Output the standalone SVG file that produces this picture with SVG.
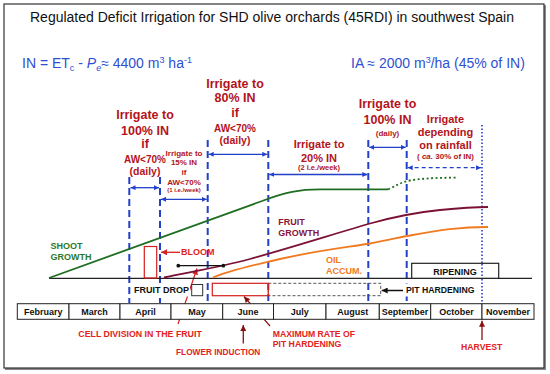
<svg xmlns="http://www.w3.org/2000/svg" width="550" height="374" viewBox="0 0 550 374">
<defs>
<style>
text{font-family:"Liberation Sans",Arial,sans-serif}
.b{font-weight:bold}
.irr{fill:#b3141c;font-weight:bold;text-anchor:middle}
.lbl{fill:#e3221b;font-weight:bold}
.blue{fill:#2f4fd2}
.vd{stroke:#2340c8;stroke-width:2;stroke-dasharray:7 4;fill:none}
.da{stroke:#2340c8;stroke-width:1.3;fill:none;marker-start:url(#ab);marker-end:url(#ab)}
.cell{fill:#fff;stroke:#222;stroke-width:1}
.mon{font-size:9px;font-weight:bold;text-anchor:middle;fill:#111}
.mask{fill:#fff;stroke:none}
</style>
<marker id="ab" viewBox="0 0 10 10" refX="10" refY="5" markerWidth="5" markerHeight="5" orient="auto-start-reverse" markerUnits="userSpaceOnUse"><path d="M0,0 L10,5 L0,10 z" fill="#2340c8"/></marker>
<marker id="ar" viewBox="0 0 10 10" refX="10" refY="5" markerWidth="7" markerHeight="6" orient="auto" markerUnits="userSpaceOnUse"><path d="M0,0 L10,5 L0,10 z" fill="#d42020"/></marker>
<marker id="ad" viewBox="0 0 10 10" refX="10" refY="5" markerWidth="7" markerHeight="6" orient="auto" markerUnits="userSpaceOnUse"><path d="M0,0 L10,5 L0,10 z" fill="#8a1010"/></marker>
<marker id="ak" viewBox="0 0 10 10" refX="10" refY="5" markerWidth="8" markerHeight="6" orient="auto" markerUnits="userSpaceOnUse"><path d="M0,0 L10,5 L0,10 z" fill="#111"/></marker>
</defs>
<rect width="550" height="374" fill="#fff"/>
<rect x="5" y="5" width="541" height="365" fill="#888"/>
<rect x="4" y="4" width="540" height="364" fill="#fff" stroke="#333" stroke-width="1.2"/>

<g id="title">
<text x="272" y="22" text-anchor="middle" font-size="14" fill="#111">Regulated Deficit Irrigation for SHD olive orchards (45RDI) in southwest Spain</text>
</g>
<g id="formula-IN">
<text x="22" y="68" class="blue" font-size="14">IN = ET<tspan font-size="9" dy="3">c</tspan><tspan dy="-3"> - </tspan><tspan font-style="italic">P</tspan><tspan font-size="9" dy="3" font-style="italic">e</tspan><tspan dy="-3">≈ 4400 m</tspan><tspan font-size="9" dy="-5">3</tspan><tspan dy="5"> ha</tspan><tspan font-size="9" dy="-5">-1</tspan></text>
</g>
<g id="formula-IA">
<text x="351" y="68" class="blue" font-size="14">IA ≈ 2000 m<tspan font-size="9" dy="-5">3</tspan><tspan dy="5">/ha (45% of IN)</tspan></text>
</g>

<g id="connectors">
<line class="vd" x1="129.3" y1="177" x2="129.3" y2="303"/>
<line class="vd" x1="160" y1="177" x2="160" y2="303"/>
<line class="vd" x1="207.7" y1="140" x2="207.7" y2="303"/>
<line class="vd" x1="268.3" y1="140" x2="268.3" y2="303"/>
<line class="vd" x1="368.3" y1="140" x2="368.3" y2="303"/>
<line class="vd" x1="406.7" y1="140" x2="406.7" y2="303"/>
<line x1="482" y1="125" x2="482" y2="303" stroke="#2340c8" stroke-width="1.6" stroke-dasharray="1.5 2"/>
<line class="da" x1="130.5" y1="187.7" x2="159" y2="187.7"/>
<line class="da" x1="161" y1="199.3" x2="206.7" y2="199.3"/>
<line class="da" x1="208.7" y1="154.3" x2="267.3" y2="154.3"/>
<line class="da" x1="269.3" y1="174.5" x2="367.3" y2="174.5"/>
<line class="da" x1="369.3" y1="147.3" x2="405.7" y2="147.3"/>
<line class="da" x1="407.7" y1="167.7" x2="481" y2="167.7" stroke-dasharray="4 3"/>
<line x1="180" y1="252.3" x2="161" y2="252.3" stroke="#d42020" stroke-width="1.3" marker-end="url(#ar)"/>
<line x1="178" y1="324" x2="197" y2="268.5" stroke="#d42020" stroke-width="1.2" marker-end="url(#ar)"/>
<line x1="243.3" y1="343.5" x2="243.3" y2="325" stroke="#8a1010" stroke-width="1.3" marker-end="url(#ad)"/>
<line x1="270" y1="326" x2="244" y2="296.5" stroke="#8a1010" stroke-width="1.2" marker-end="url(#ad)"/>
<line x1="482" y1="340" x2="482" y2="320.7" stroke="#8a1010" stroke-width="1.3" marker-end="url(#ad)"/>
<line x1="403" y1="290.5" x2="381.7" y2="290.5" stroke="#111" stroke-width="1.5" marker-end="url(#ak)"/>
</g>

<g id="baseline"><line x1="49" y1="278.3" x2="532" y2="278.3" stroke="#222" stroke-width="1.3"/></g>

<g id="shoot-growth">
<path d="M49,278 L262,201 C285,192 300,189.3 320,189.3 L388,189.3" fill="none" stroke="#1f6e22" stroke-width="1.8"/>
<path d="M388,189.3 C396,186 401,182 410,180.5 C425,178 440,177.7 456,177.7" fill="none" stroke="#1f6e22" stroke-width="1.8" stroke-dasharray="2 2.5"/>
<text x="50.5" y="249" class="b" font-size="9" fill="#2a7a2a">SHOOT</text>
<text x="50.5" y="260" class="b" font-size="9" fill="#2a7a2a">GROWTH</text>
</g>
<g id="fruit-growth">
<path d="M164,277.5 C190,272 220,267 250,259 C300,245 340,232 372,223 C392,217.5 410,213 440,210 C460,208 475,207 488,207" fill="none" stroke="#7c1034" stroke-width="1.8"/>
<text x="278.3" y="225" class="b" font-size="9" fill="#8b1538">FRUIT</text>
<text x="278.3" y="235.5" class="b" font-size="9" fill="#8b1538">GROWTH</text>
</g>
<g id="oil-accum">
<path d="M213,277.5 C230,270 250,266 280,259 C320,250 350,247 370,243.5 C390,240 400,237 410,235.5 C440,230 460,227 488,227" fill="none" stroke="#f07a20" stroke-width="1.8"/>
<text x="326" y="262.5" class="b" font-size="9" fill="#f07a20">OIL</text>
<text x="326" y="273.5" class="b" font-size="9" fill="#f07a20">ACCUM.</text>
</g>
<g id="cell-division-range">
<line x1="178.3" y1="265.7" x2="223.3" y2="265.7" stroke="#111" stroke-width="1.2"/>
<circle cx="178.3" cy="265.7" r="1.9" fill="#111"/>
<circle cx="223.3" cy="265.7" r="1.9" fill="#111"/>
</g>
<g id="bloom">
<rect x="144.3" y="246.5" width="12.4" height="31.5" fill="none" stroke="#d42020" stroke-width="1.2"/>
<text x="181" y="255.3" class="lbl" font-size="9">BLOOM</text>
</g>
<g id="fruit-drop">
<rect class="mask" x="132" y="283.5" width="58" height="13"/>
<text x="134" y="292.7" class="b" font-size="9" fill="#111">FRUIT DROP</text>
<rect x="191.7" y="284.5" width="11" height="11.2" fill="none" stroke="#333" stroke-width="1"/>
</g>
<g id="pit-hardening">
<rect x="268.3" y="283.3" width="112.4" height="12.4" fill="none" stroke="#555" stroke-width="1" stroke-dasharray="3 2"/>
<rect x="212.3" y="283.3" width="56" height="12.4" fill="none" stroke="#d42020" stroke-width="1.2"/>
<rect class="mask" x="404" y="283.5" width="72" height="13"/>
<text x="406" y="293" class="b" font-size="8.7" fill="#111">PIT HARDENING</text>
</g>
<g id="ripening">
<rect x="411.7" y="263.3" width="87" height="15" fill="#fff" stroke="#222" stroke-width="1.2"/>
<line x1="482" y1="264" x2="482" y2="278" stroke="#2340c8" stroke-width="1.6" stroke-dasharray="1.5 2"/>
<text x="455" y="274.5" class="b" font-size="9" fill="#111" text-anchor="middle">RIPENING</text>
</g>

<g id="irr-100-april">
<text class="irr" x="145" y="118.5" font-size="12.5">Irrigate to</text>
<text class="irr" x="145" y="134.5" font-size="12.5">100% IN</text>
<text class="irr" x="145" y="148" font-size="12.5">if</text>
<text class="irr" x="145" y="163" font-size="10">AW&lt;70%</text>
<text class="irr" x="145" y="174.5" font-size="10.5">(daily)</text>
</g>
<g id="irr-15-may">
<text class="irr" x="184" y="155.5" font-size="8">Irrigate to</text>
<text class="irr" x="184" y="165" font-size="8">15% IN</text>
<text class="irr" x="184" y="174.5" font-size="8">if</text>
<text class="irr" x="184" y="184.5" font-size="8">AW&lt;70%</text>
<text class="irr" x="184" y="192" font-size="6">(1 i.e./week)</text>
</g>
<g id="irr-80-june">
<text class="irr" x="235" y="87.5" font-size="12.5">Irrigate to</text>
<text class="irr" x="235" y="101.5" font-size="12.5">80% IN</text>
<text class="irr" x="235" y="117" font-size="12.5">if</text>
<text class="irr" x="235" y="131.5" font-size="10">AW&lt;70%</text>
<text class="irr" x="235" y="143.5" font-size="10.5">(daily)</text>
</g>
<g id="irr-20-july">
<text class="irr" x="319" y="148" font-size="11">Irrigate to</text>
<text class="irr" x="319" y="161.5" font-size="11">20% IN</text>
<text class="irr" x="319" y="170" font-size="7.5">(2 i.e./week)</text>
</g>
<g id="irr-100-september">
<text class="irr" x="387.5" y="107.5" font-size="12.5">Irrigate to</text>
<text class="irr" x="387.5" y="123.5" font-size="12.5">100% IN</text>
<text class="irr" x="387.5" y="136" font-size="8">(daily)</text>
</g>
<g id="irr-rainfall">
<text class="irr" x="445.5" y="122.5" font-size="11">Irrigate</text>
<text class="irr" x="445.5" y="136" font-size="11">depending</text>
<text class="irr" x="445.5" y="148.5" font-size="11">on rainfall</text>
<text class="irr" x="445.5" y="159" font-size="8">( <tspan font-style="italic">ca.</tspan> 30% of IN)</text>
</g>

<g id="months">
<rect class="cell" x="17.3" y="303.7" width="51.7" height="15.6"/>
<rect class="cell" x="69" y="303.7" width="51" height="15.6"/>
<rect class="cell" x="120" y="303.7" width="51" height="15.6"/>
<rect class="cell" x="171" y="303.7" width="51.7" height="15.6"/>
<rect class="cell" x="222.7" y="303.7" width="50.8" height="15.6"/>
<rect class="cell" x="273.5" y="303.7" width="52.5" height="15.6"/>
<rect class="cell" x="326" y="303.7" width="53.3" height="15.6"/>
<rect class="cell" x="379.3" y="303.7" width="51.4" height="15.6"/>
<rect class="cell" x="430.7" y="303.7" width="51.3" height="15.6"/>
<rect class="cell" x="482" y="303.7" width="52" height="15.6"/>
<text class="mon" x="43.2" y="315">February</text>
<text class="mon" x="94.5" y="315">March</text>
<text class="mon" x="145.5" y="315">April</text>
<text class="mon" x="196.9" y="315">May</text>
<text class="mon" x="248.1" y="315">June</text>
<text class="mon" x="299.8" y="315">July</text>
<text class="mon" x="352.7" y="315">August</text>
<text class="mon" x="405" y="315">September</text>
<text class="mon" x="456.4" y="315">October</text>
<text class="mon" x="508" y="315">November</text>
</g>

<g id="bottom-labels">
<text x="78.3" y="336.5" class="lbl" font-size="8.8">CELL DIVISION IN THE FRUIT</text>
<text x="176" y="354.5" class="lbl" font-size="8.3">FLOWER INDUCTION</text>
<text x="272.7" y="336.5" class="lbl" font-size="8.7">MAXIMUM RATE OF</text>
<text x="272.7" y="346.5" class="lbl" font-size="8.7">PIT HARDENING</text>
<text x="461" y="349.5" class="lbl" font-size="8.7">HARVEST</text>
</g>
</svg>
